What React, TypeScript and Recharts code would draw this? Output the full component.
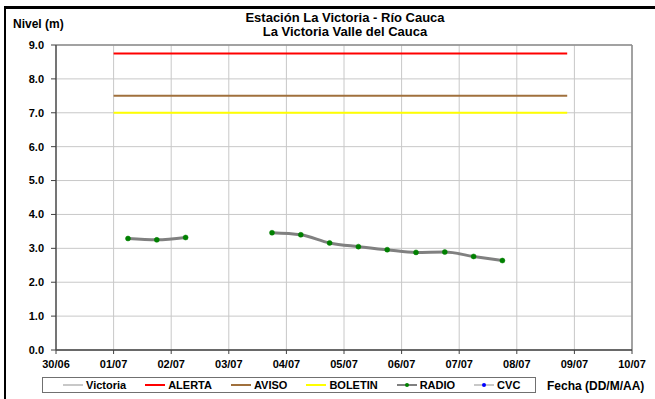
import { LineChart, Line, XAxis, YAxis, CartesianGrid, ReferenceLine } from 'recharts';

// days since 30/06
const dayTicks = [0, 1, 2, 3, 4, 5, 6, 7, 8, 9, 10];
const dayLabels = ['30/06', '01/07', '02/07', '03/07', '04/07', '05/07', '06/07', '07/07', '08/07', '09/07', '10/07'];
const levelTicks = [0, 1, 2, 3, 4, 5, 6, 7, 8, 9];

const radioTimes = [1.25, 1.75, 2.25, 2.75, 3.25, 3.75, 4.25, 4.75, 5.25, 5.75, 6.25, 6.75, 7.25, 7.75];
const radioLevels = [3.29, 3.25, 3.32, null, null, 3.46, 3.4, 3.16, 3.05, 2.96, 2.88, 2.89, 2.76, 2.64];

const thresholdSpan = [1, 8.875];
const alertaLevel = 8.75;
const avisoLevel = 7.5;
const boletinLevel = 7.0;

const font = '"Liberation Sans", Arial, sans-serif';

const radioData = radioTimes.map((t, i) => ({ t, v: radioLevels[i] }));
const flat = (level: number) => thresholdSpan.map((t) => ({ t, v: level }));

const legendItems = [
  { name: 'Victoria', color: '#c8c8c8', dot: null },
  { name: 'ALERTA', color: '#ff0000', dot: null },
  { name: 'AVISO', color: '#a0703c', dot: null },
  { name: 'BOLETIN', color: '#ffff00', dot: null },
  { name: 'RADIO', color: '#808080', dot: '#008000' },
  { name: 'CVC', color: '#c8c8c8', dot: '#0000ff' },
];

const tickStyle = { fontSize: 11, fontWeight: 700, fill: '#000', fontFamily: font };

export default function App() {
  return (
    <div style={{ position: 'absolute', left: 0, top: 0, width: 655, height: 399, background: '#fff', overflow: 'hidden', fontFamily: font }}>
      <div style={{ position: 'absolute', left: 4, top: 6, width: 700, height: 500, borderLeft: '2px solid #000', borderTop: '3px solid #000' }} />
      <div style={{ position: 'absolute', left: 0, top: 0 }}>
        <LineChart width={655} height={399} margin={{ top: 45, right: 23, left: 0, bottom: 29 }}>
          <CartesianGrid stroke="#c8c8c8" strokeWidth={1} />
          <XAxis
            type="number"
            dataKey="t"
            domain={[0, 10]}
            ticks={dayTicks}
            tickFormatter={(d: number) => dayLabels[d]}
            tick={tickStyle}
            axisLine={{ stroke: '#404040', strokeWidth: 1.5 }}
            tickLine={{ stroke: '#404040' }}
            tickSize={4}
            tickMargin={6}
            height={20}
            allowDataOverflow
          />
          <YAxis
            type="number"
            domain={[0, 9]}
            ticks={levelTicks}
            tickFormatter={(v: number) => v.toFixed(1)}
            tick={tickStyle}
            axisLine={{ stroke: '#505050', strokeWidth: 1.5 }}
            tickLine={{ stroke: '#404040' }}
            tickSize={5}
            tickMargin={7}
            width={56}
          />
          <ReferenceLine y={9} stroke="#8c8c8c" strokeWidth={1.5} />
          <ReferenceLine x={10} stroke="#8c8c8c" strokeWidth={1.5} />
          <Line data={flat(alertaLevel)} dataKey="v" stroke="#ff0000" strokeWidth={2} dot={false} isAnimationActive={false} />
          <Line data={flat(avisoLevel)} dataKey="v" stroke="#a0703c" strokeWidth={2} dot={false} isAnimationActive={false} />
          <Line data={flat(boletinLevel)} dataKey="v" stroke="#ffff00" strokeWidth={2} dot={false} isAnimationActive={false} />
          <Line
            data={radioData}
            dataKey="v"
            type="monotone"
            stroke="#808080"
            strokeWidth={3}
            dot={{ r: 2.5, fill: '#008000', stroke: '#008000', strokeWidth: 0.5 }}
            isAnimationActive={false}
          />
        </LineChart>
      </div>

      <div style={{ position: 'absolute', left: 0, width: 690, top: 11, textAlign: 'center', fontSize: 13, fontWeight: 700, lineHeight: '14px' }}>
        Estación La Victoria - Río Cauca
        <br />
        La Victoria Valle del Cauca
      </div>
      <div style={{ position: 'absolute', left: 13, top: 17, fontSize: 12, fontWeight: 700 }}>Nivel (m)</div>

      <div
        style={{
          position: 'absolute',
          left: 42,
          top: 377,
          width: 494,
          height: 16,
          border: '1px solid #707070',
          display: 'flex',
          alignItems: 'center',
          gap: 19,
          paddingLeft: 20,
          boxSizing: 'border-box',
        }}
      >
        {legendItems.map((item) => (
          <div key={item.name} style={{ display: 'flex', alignItems: 'center', fontSize: 11, fontWeight: 700 }}>
            <svg width={20} height={6} style={{ marginRight: 3 }}>
              <line x1={0} y1={3} x2={20} y2={3} stroke={item.color} strokeWidth={2} />
              {item.dot && <circle cx={10} cy={3} r={2} fill={item.dot} />}
            </svg>
            {item.name}
          </div>
        ))}
      </div>
      <div style={{ position: 'absolute', left: 547, top: 379, fontSize: 12, fontWeight: 700 }}>Fecha (DD/M/AA)</div>
    </div>
  );
}
